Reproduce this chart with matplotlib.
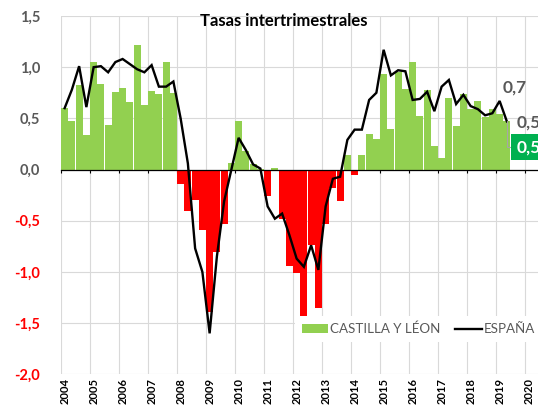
import numpy as np
import matplotlib
matplotlib.use("Agg")
import matplotlib.pyplot as plt
from matplotlib.patches import Patch
from matplotlib.lines import Line2D

# ---------------- data ----------------
start_year = 2004
title = "Tasas intertrimestrales"
series_names = ["CASTILLA Y LÉON", "ESPAÑA"]

# quarterly values 2004Q1 .. 2019Q2
castilla_leon = [
    0.60, 0.47, 0.83, 0.34,
    1.05, 0.84, 0.44, 0.76,
    0.80, 0.66, 1.22, 0.63,
    0.77, 0.74, 1.05, 0.75,
    -0.14, -0.40, -0.30, -0.59,
    -1.39, -0.81, -0.53, 0.06,
    0.47, 0.18, 0.05, 0.01,
    -0.26, 0.02, -0.48, -0.94,
    -1.01, -1.44, -0.74, -1.35,
    -0.53, -0.18, -0.31, 0.14,
    -0.05, 0.14, 0.35, 0.30,
    0.93, 0.40, 0.95, 0.79,
    1.05, 0.52, 0.78, 0.23,
    0.11, 0.70, 0.43, 0.74,
    0.59, 0.67, 0.51, 0.59,
    0.54, 0.47,
]
espana = [
    0.60, 0.78, 1.01, 0.61,
    1.00, 1.01, 0.95, 1.05,
    1.08, 1.03, 0.98, 0.95,
    1.02, 0.81, 0.81, 0.86,
    0.50, 0.06, -0.77, -1.00,
    -1.60, -0.85, -0.31, 0.00,
    0.31, 0.19, 0.05, 0.01,
    -0.36, -0.48, -0.43, -0.64,
    -0.87, -0.95, -0.74, -0.98,
    -0.36, -0.09, -0.07, 0.29,
    0.39, 0.39, 0.68, 0.75,
    1.17, 0.92, 0.97, 0.96,
    0.68, 0.69, 0.76, 0.57,
    0.81, 0.875, 0.64, 0.73,
    0.62, 0.59, 0.53, 0.55,
    0.67, 0.47,
]
year_ticks = list(range(2004, 2021))
year_labels = [str(y) for y in year_ticks]
y_ticks = [-2.0, -1.5, -1.0, -0.5, 0.0, 0.5, 1.0, 1.5]

# ---------------- style ----------------
GREEN = "#92D050"
RED = "#FF0000"
TXT_GRAY = "#595959"
GRID = "#D9D9D9"
BOX_GREEN = "#00B050"

plt.rcParams["font.family"] = ["Lato", "DejaVu Sans"]


def fmt(v):
    return f"{v:.1f}".replace(".", ",")


W, H = 538, 405
fig = plt.figure(figsize=(W / 100, H / 100), dpi=100)
ax_l, ax_r, ax_t, ax_b = 61, 538, 16, 374.3
ax = fig.add_axes([ax_l / W, 1 - ax_b / H, (ax_r - ax_l) / W, (ax_b - ax_t) / H])

n = len(castilla_leon)
xq = start_year + (np.arange(n) + 0.5) / 4.0
colors = [GREEN if v >= 0 else RED for v in castilla_leon]
ax.bar(xq, castilla_leon, width=0.25, color=colors, linewidth=0, zorder=2)
ax.plot(xq, espana, color="black", lw=1.7, zorder=4, solid_joinstyle="miter")

px_per_year = 29.0
ax.set_xlim(2004, 2004 + (ax_r - ax_l) / px_per_year)
ax.set_ylim(-2.0, 1.5)

ax.set_yticks(y_ticks)
ax.set_yticklabels([fmt(t) for t in y_ticks], fontweight="bold", fontsize=10.5)
for lbl, t in zip(ax.get_yticklabels(), y_ticks):
    lbl.set_color(RED if t < 0 else TXT_GRAY)
ax.tick_params(axis="y", length=0, pad=15)

ax.set_xticks(year_ticks)
ax.tick_params(axis="x", direction="out", length=2.5, width=0.8, color="black",
               labelbottom=False)
ax.grid(True, color=GRID, lw=0.8)
ax.set_axisbelow(True)
for s in ["left", "right", "top"]:
    ax.spines[s].set_visible(False)
ax.spines["bottom"].set_position(("data", 0))
ax.spines["bottom"].set_color("black")
ax.spines["bottom"].set_linewidth(0.9)
ax.spines["bottom"].set_zorder(3)

sec = ax.secondary_xaxis(0)
sec.set_xticks([y + 0.15 for y in year_ticks], labels=year_labels)
sec.tick_params(length=0, pad=2.5, labelsize=8, labelrotation=90)
for lbl in sec.get_xticklabels():
    lbl.set_fontweight("bold")
for s in sec.spines.values():
    s.set_visible(False)

ax.text(0.4675, 0.986, title, transform=ax.transAxes, ha="center", va="center",
        fontsize=12, fontweight="bold", color="black", zorder=6)

# data labels
ax.annotate(fmt(espana[-2]), xy=(xq[-2], espana[-2]), xytext=(2, 10),
            textcoords="offset points", ha="left", va="center",
            fontsize=12.5, fontweight="bold", color=TXT_GRAY, zorder=6)
ax.annotate(fmt(espana[-1]), xy=(xq[-1], espana[-1]), xytext=(7, -1),
            textcoords="offset points", ha="left", va="center",
            fontsize=12.5, fontweight="bold", color=TXT_GRAY, zorder=6,
            annotation_clip=False)
ax.annotate(fmt(castilla_leon[-1]), xy=(xq[-1], castilla_leon[-1]), xytext=(7, -18.5),
            textcoords="offset points", ha="left", va="center",
            fontsize=12.5, fontweight="bold", color="white", zorder=6,
            bbox=dict(boxstyle="square,pad=0.3", fc=BOX_GREEN, ec="none"),
            arrowprops=dict(arrowstyle="-", color="#A6A6A6", lw=0.8, shrinkA=0, shrinkB=0,
                            connectionstyle="angle,angleA=0,angleB=90,rad=0"),
            annotation_clip=False)

handles = [Patch(facecolor=GREEN, edgecolor="none"),
           Line2D([0], [0], color="black", lw=1.7)]
leg = ax.legend(handles, series_names, loc="lower left",
                bbox_to_anchor=((295 - ax_l) / (ax_r - ax_l), (ax_b - 342) / (ax_b - ax_t)),
                ncol=2, fontsize=9.6, frameon=True, fancybox=False, framealpha=1,
                edgecolor="none", facecolor="white", borderpad=0.5,
                handlelength=2.0, handletextpad=0.15, columnspacing=1.1,
                borderaxespad=0)
for t in leg.get_texts():
    t.set_color(TXT_GRAY)
leg.set_zorder(5)

fig.savefig("out.png", dpi=100)
